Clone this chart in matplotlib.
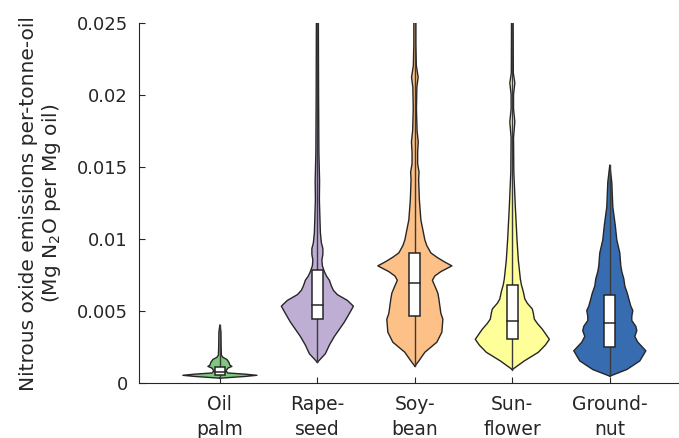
import numpy as np
import matplotlib.pyplot as plt

# crops and their colours (ColorBrewer Accent)
crops = ['Oil\npalm', 'Rape-\nseed', 'Soy-\nbean', 'Sun-\nflower', 'Ground-\nnut']
colors = ['#7fc97f', '#beaed4', '#fdc086', '#ffff99', '#386cb0']

# violin outlines: emission level and relative density
oil_y = [0.00030, 0.00042, 0.00050, 0.00058, 0.00066, 0.00080, 0.00100, 0.00112,
         0.00120, 0.00140, 0.00160, 0.00175, 0.00190, 0.0025, 0.0035, 0.0040]
oil_d = [0, 25, 37, 25, 8, 6, 8, 12, 10, 9, 7, 3, 1.5, 1.2, 1, 0]

rape_y = [0.0014, 0.0017, 0.0020, 0.0026, 0.0032, 0.0037, 0.0042, 0.0048, 0.0053,
          0.0057, 0.0061, 0.0064, 0.0067, 0.0071, 0.0074, 0.0077, 0.0081, 0.0085,
          0.0089, 0.0093, 0.0097, 0.0104, 0.0115, 0.0127, 0.0140, 0.0160, 0.0200, 0.0250]
rape_d = [0, 4, 8, 12, 17, 22, 27, 32, 36, 30, 20, 16, 14, 12, 9, 7, 5, 4.5,
          5.5, 5.5, 4, 3, 2.5, 2, 2.2, 1.5, 1.2, 1]

soy_y = [0.00113, 0.0015, 0.0021, 0.0028, 0.0035, 0.0044, 0.0048, 0.0053, 0.0058,
         0.0062, 0.0067, 0.0071, 0.0074, 0.0077, 0.0081, 0.0084, 0.0087, 0.0090,
         0.0095, 0.0099, 0.0106, 0.0113, 0.0127, 0.0141, 0.0146, 0.0152, 0.0160,
         0.0167, 0.0175, 0.0190, 0.0205, 0.0212, 0.0220, 0.0235, 0.0250]
soy_d = [0, 4, 10, 22, 27, 28, 26, 25, 24, 23, 20, 17.5, 20, 26, 37, 29, 22, 16,
         12, 10, 8, 6, 4.5, 3.8, 4.2, 2.8, 2.8, 3.4, 2.2, 1.6, 2, 3.3, 1.5, 1, 1]

sun_y = [0.0009, 0.0012, 0.0015, 0.0021, 0.0026, 0.0030, 0.0034, 0.0037, 0.0041,
         0.0044, 0.0048, 0.0051, 0.0055, 0.0058, 0.0063, 0.0068, 0.0072, 0.0085,
         0.0099, 0.0122, 0.0146, 0.0170, 0.0181, 0.0190, 0.0200, 0.0208, 0.0215, 0.0250]
sun_d = [0, 6, 12, 26, 33, 37, 33, 30, 25, 22, 21, 20, 15, 12.5, 11, 9, 8, 6,
         4.7, 3, 1.5, 1.2, 2.5, 1.2, 1.2, 2.5, 1, 0.8]

gnut_y = [0.00044, 0.0009, 0.0015, 0.0022, 0.0028, 0.0032, 0.0036, 0.0039, 0.0043,
          0.0046, 0.0050, 0.0053, 0.0058, 0.0062, 0.0067, 0.0072, 0.0077, 0.0081,
          0.0090, 0.0099, 0.0109, 0.0122, 0.0139, 0.0151]
gnut_d = [0, 17, 30, 36, 28, 25, 27, 26, 22, 22, 23, 21, 19, 17.5, 15, 14, 12, 11,
          10, 7, 5.5, 3, 2, 0]

# box plot statistics: lower quartile, median, upper quartile
q1 = [0.00050, 0.0044, 0.0046, 0.0030, 0.0025]
med = [0.00070, 0.0054, 0.0069, 0.0043, 0.0041]
q3 = [0.00108, 0.0078, 0.0090, 0.0068, 0.0061]

profiles = [(oil_y, oil_d), (rape_y, rape_d), (soy_y, soy_d),
            (sun_y, sun_d), (gnut_y, gnut_d)]

dmax = max(max(d) for _, d in profiles)
half_w = 0.38
box_w = 0.055
dark = '#262626'

fig = plt.figure(figsize=(6.79, 4.39), dpi=100)
ax = fig.add_axes([139 / 679, 55.5 / 439, 540 / 679, 360 / 439])

for i, (ys, ds) in enumerate(profiles):
    x0 = i + 1
    ys = np.array(ys)
    w = np.array(ds) / dmax * half_w
    ax.fill_betweenx(ys, x0 - w, x0 + w, facecolor=colors[i], edgecolor='none', zorder=2)
    ax.plot(np.r_[x0 - w, (x0 + w)[::-1], x0 - w[0]], np.r_[ys, ys[::-1], ys[0]],
            color=dark, lw=1.0, zorder=3, solid_joinstyle='round')
    # whisker line
    ax.plot([x0, x0], [ys[0], ys[-1]], color='#3a3a3a', lw=1.0, zorder=4)
    # box
    ax.add_patch(plt.Rectangle((x0 - box_w, q1[i]), 2 * box_w, q3[i] - q1[i],
                               facecolor='white', edgecolor=dark, lw=1.1, zorder=5))
    ax.plot([x0 - box_w, x0 + box_w], [med[i], med[i]], color=dark, lw=1.1, zorder=6)

ax.set_xlim(0.17, 5.71)
ax.set_ylim(0, 0.025)
ax.set_xticks(range(1, 6))
ax.set_xticklabels(crops, fontsize=13.5, linespacing=1.45)
ax.set_yticks([0, 0.005, 0.01, 0.015, 0.02, 0.025])
ax.set_yticklabels(['0', '0.005', '0.01', '0.015', '0.02', '0.025'], fontsize=13)
ax.tick_params(direction='in', length=4, width=0.8, colors=dark)
ax.tick_params(axis='y', pad=8)
ax.tick_params(axis='x', pad=8)
for s in ['top', 'right']:
    ax.spines[s].set_visible(False)
for s in ['left', 'bottom']:
    ax.spines[s].set_color(dark)
    ax.spines[s].set_linewidth(0.8)

ax.set_ylabel('Nitrous oxide emissions per-tonne-oil\n(Mg N$_2$O per Mg oil)',
              fontsize=14.5, color=dark, labelpad=10, linespacing=1.1)

fig.savefig('out.png', dpi=100)
